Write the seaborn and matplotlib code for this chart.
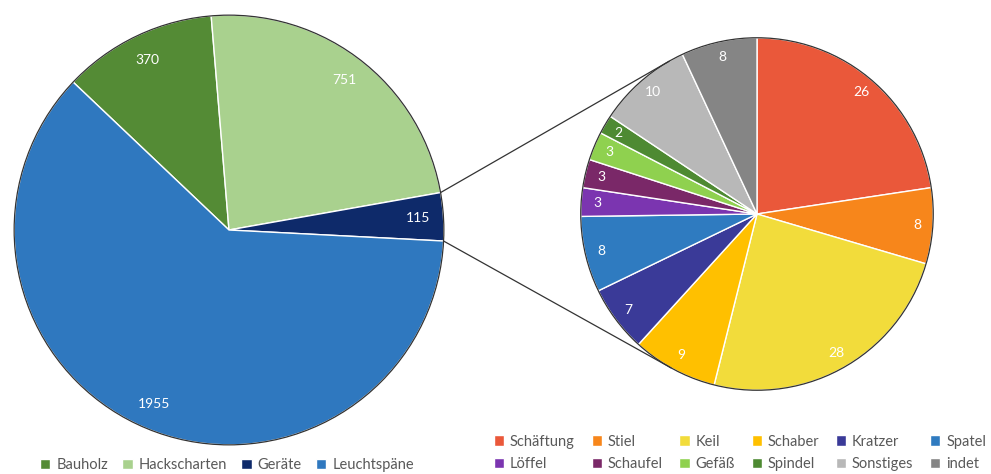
import numpy as np
import matplotlib
matplotlib.use("Agg")
import matplotlib.pyplot as plt
from matplotlib.patches import ConnectionPatch, Circle, Patch
import seaborn as sns

sns.set_style("white")
plt.rcParams['font.family'] = ['Lato', 'DejaVu Sans']

# Hauptkategorien (linker Kreis)
main_labels = ["Bauholz", "Hackscharten", "Geräte", "Leuchtspäne"]
main_values = [370, 751, 115, 1955]
main_colors = ["#548B35", "#A9D18E", "#0E2A6A", "#2F78BF"]

# Aufschlüsselung der Geräte (rechter Kreis)
sub_labels = ["Schäftung", "Stiel", "Keil", "Schaber", "Kratzer", "Spatel",
              "Löffel", "Schaufel", "Gefäß", "Spindel", "Sonstiges", "indet"]
sub_values = [26, 8, 28, 9, 7, 8, 3, 3, 3, 2, 10, 8]
sub_colors = ["#EA583A", "#F7861B", "#F2DC3B", "#FFC000", "#3A3A98", "#2F7BC0",
              "#7B35B0", "#7A2868", "#8FD14F", "#4E8A32", "#B8B8B8", "#858585"]

W, H = 991, 474
fig = plt.figure(figsize=(W / 100, H / 100), dpi=100)

# linker Kreis: Mittelpunkt ~ (229, 230), Radius ~ 217 px
ax1 = fig.add_axes([12 / W, 27 / H, 434 / W, 434 / H])
# rechter Kreis: Mittelpunkt ~ (757, 214), Radius ~ 178 px
ax2 = fig.add_axes([579 / W, 82 / H, 356 / W, 356 / H])

wedge_kw = dict(edgecolor="white", linewidth=1)
txt_kw = dict(color="white", fontsize=10)

w1, _, _ = ax1.pie(main_values, colors=main_colors, startangle=136.5, counterclock=False,
                   radius=1, wedgeprops=wedge_kw, autopct=lambda p: f"{p * sum(main_values) / 100:.0f}",
                   pctdistance=0.88, textprops=txt_kw)
w2, _, _ = ax2.pie(sub_values, colors=sub_colors, startangle=90, counterclock=False,
                   radius=1, wedgeprops=wedge_kw, autopct=lambda p: f"{p * sum(sub_values) / 100:.0f}",
                   pctdistance=0.91, textprops=txt_kw)

for ax in (ax1, ax2):
    ax.add_patch(Circle((0, 0), 1, fill=False, edgecolor="#333333", linewidth=0.9))
    ax.set_xlim(-1.01, 1.01)
    ax.set_ylim(-1.01, 1.01)
    ax.set_aspect("equal")
    ax.axis("off")

# Verbindungslinien vom Geräte-Segment zu den Tangenten des rechten Kreises
g = w1[main_labels.index("Geräte")]
c_px = ax2.transData.transform((0, 0))
r_px = ax2.transData.transform((1, 0))[0] - c_px[0]
for ang, sign in ((g.theta2, -1), (g.theta1, 1)):
    pt = (np.cos(np.radians(ang)), np.sin(np.radians(ang)))
    p_px = ax1.transData.transform(pt)
    d = p_px - c_px
    phi = np.arctan2(d[1], d[0])
    alpha = np.arccos(r_px / np.hypot(*d))
    t = phi + sign * alpha
    tp = (np.cos(t), np.sin(t))
    con = ConnectionPatch(xyA=pt, coordsA=ax1.transData, xyB=tp, coordsB=ax2.transData,
                          color="#333333", linewidth=0.9)
    fig.add_artist(con)

leg_kw = dict(frameon=False, fontsize=10.5, handlelength=0.7, handleheight=0.7,
              handletextpad=0.4, labelcolor="#595959")

h1 = [Patch(facecolor=c, label=l) for l, c in zip(main_labels, main_colors)]
fig.legend(handles=h1, loc="center", bbox_to_anchor=(227 / W, 1 - 465 / H), ncol=4,
           columnspacing=1.0, **leg_kw)

h2 = [Patch(facecolor=c, label=l) for l, c in zip(sub_labels, sub_colors)]
order = [i + j * 6 for i in range(6) for j in range(2)]
fig.legend(handles=[h2[i] for i in order], loc="center", bbox_to_anchor=(740 / W, 1 - 453 / H),
           ncol=6, columnspacing=1.15, labelspacing=0.6, **leg_kw)

fig.savefig("out.png", dpi=100)
